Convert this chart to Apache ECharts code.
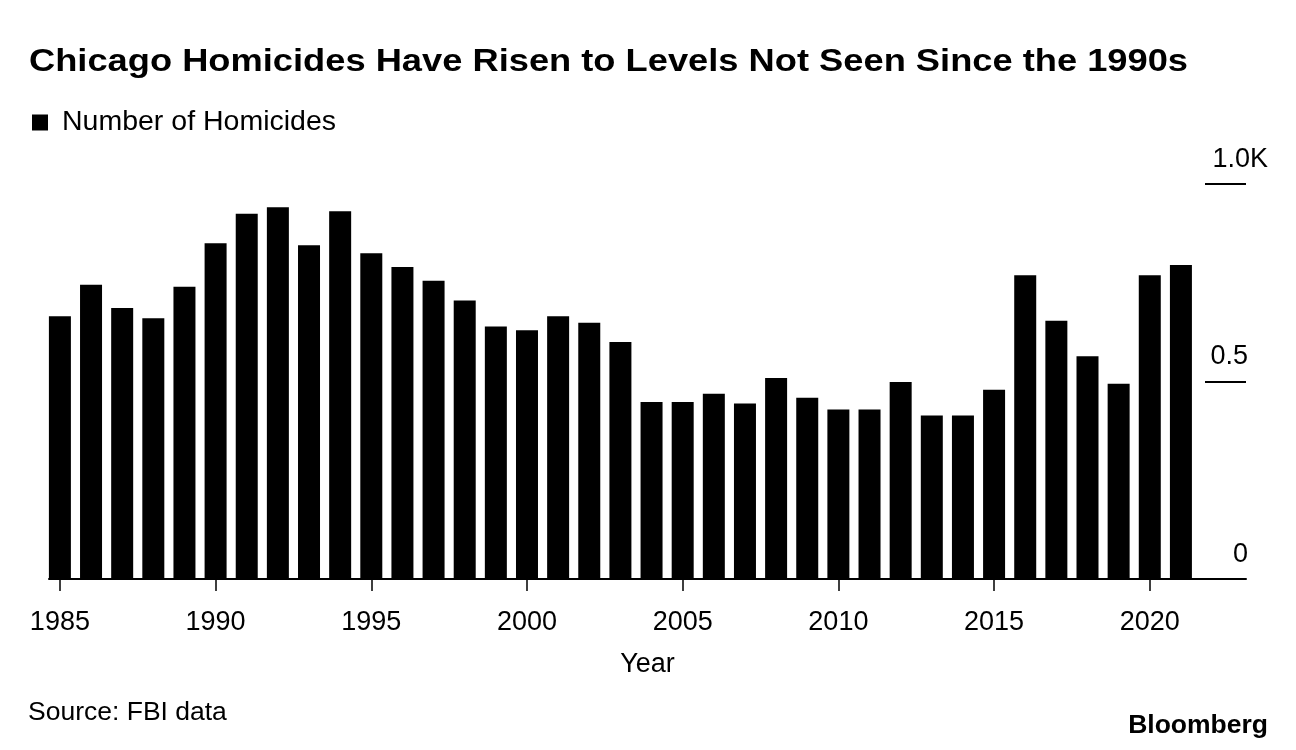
<!DOCTYPE html>
<html>
<head>
<meta charset="utf-8">
<script src="https://cdn.jsdelivr.net/npm/echarts@6/dist/echarts.min.js"></script>
<style>
html,body{margin:0;padding:0;background:#fff;}
#chart{width:1296px;height:750px;}
</style>
</head>
<body>
<div id="chart"></div>
<script>
const years = [1985,1986,1987,1988,1989,1990,1991,1992,1993,1994,1995,1996,1997,1998,1999,2000,2001,2002,2003,2004,2005,2006,2007,2008,2009,2010,2011,2012,2013,2014,2015,2016,2017,2018,2019,2020,2021];
const homicides = [665,745,686,660,740,850,925,941,845,931,825,790,755,705,639,630,665,649,600,448,448,469,444,509,459,429,429,499,414,414,479,769,654,564,494,769,795];
const xTicks = [1985,1990,1995,2000,2005,2010,2015,2020];
const yTicks = [0,500,1000];
const seriesName = 'Number of Homicides';
const titleText = 'Chicago Homicides Have Risen to Levels Not Seen Since the 1990s';
const sourceText = 'Source: FBI data';

const FONT = '"Liberation Sans", Arial, Helvetica, sans-serif';
const chart = echarts.init(document.getElementById('chart'));
const data = years.map((y, i) => [y, homicides[i]]);

chart.setOption({
  animation: false,
  backgroundColor: '#ffffff',
  legend: {
    left: 32,
    top: 108,
    padding: 0,
    icon: 'rect',
    itemWidth: 16,
    itemHeight: 16,
    selectedMode: false,
    data: [seriesName],
    textStyle: { fontFamily: FONT, fontSize: 28.5, color: '#000', padding: [0, 0, 0, 9] }
  },
  grid: { left: 49, right: 50, top: 184, bottom: 171, containLabel: false },
  xAxis: {
    type: 'value',
    min: 1984.65,
    max: 2023.09,
    name: 'Year',
    nameLocation: 'middle',
    nameGap: 72,
    nameTextStyle: { fontFamily: FONT, fontSize: 27, color: '#000' },
    splitLine: { show: false },
    axisLine: { show: true, lineStyle: { color: '#000', width: 2 } },
    axisTick: { show: true, customValues: xTicks, length: 12, lineStyle: { color: '#000', width: 1.5 } },
    axisLabel: {
      customValues: xTicks,
      margin: 30,
      fontFamily: FONT, fontSize: 27, color: '#000',
      formatter: v => String(v)
    }
  },
  yAxis: {
    type: 'value',
    position: 'right',
    min: 0,
    max: 1000,
    interval: 500,
    splitLine: { show: false },
    axisLine: { show: false },
    axisTick: { show: true, inside: true, length: 41, lineStyle: { color: '#000', width: 2 } },
    axisLabel: {
      align: 'right',
      verticalAlign: 'bottom',
      margin: 22,
      formatter: v => v === 1000 ? '{k|1.0K}' : (v === 500 ? '{n|0.5}' : '{n|0}'),
      rich: {
        k: { fontFamily: FONT, fontSize: 27, color: '#000', padding: [0, 0, 11, 0] },
        n: { fontFamily: FONT, fontSize: 27, color: '#000', padding: [0, 20, 11, 0] }
      }
    }
  },
  series: [{
    name: seriesName,
    type: 'bar',
    barWidth: 22,
    itemStyle: { color: '#000' },
    data: data
  }],
  graphic: [
    { type: 'text', x: 29, y: 47, scaleX: 1.17, style: { text: titleText, x: 0, y: 0, verticalAlign: 'top', fontFamily: FONT, fontSize: 31, fontWeight: 'bold', fill: '#000' } },
    { type: 'text', left: 28, top: 699, style: { text: sourceText, fontFamily: FONT, fontSize: 26.5, fill: '#000' } },
    { type: 'text', right: 28, top: 712, style: { text: 'Bloomberg', fontFamily: FONT, fontSize: 26.5, fontWeight: 'bold', fill: '#000' } }
  ]
});
</script>
</body>
</html>
